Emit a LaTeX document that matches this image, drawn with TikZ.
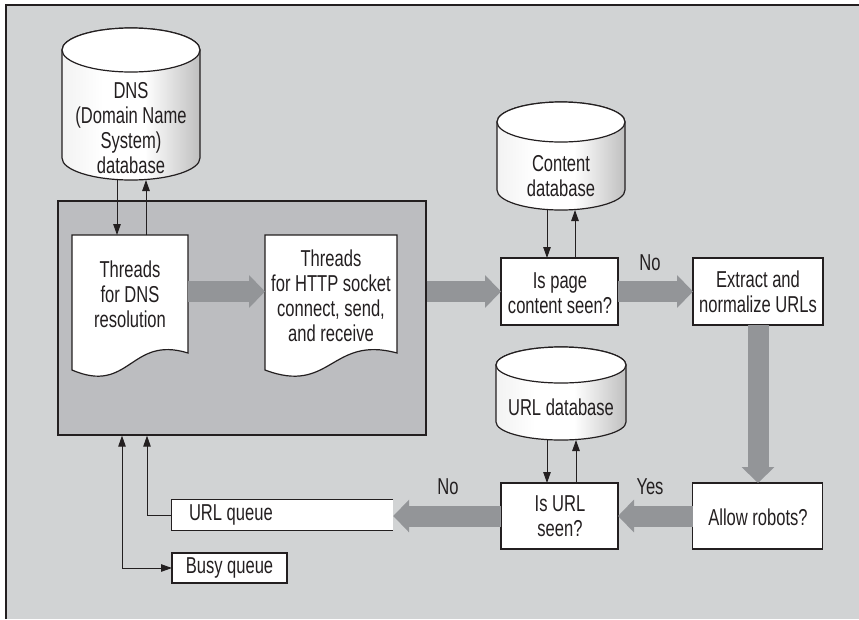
\documentclass[tikz,border=0pt]{standalone}
\usepackage{fontspec}
\setmainfont{Liberation Sans}[FakeStretch=0.72]
\usetikzlibrary{arrows.meta,calc}
\definecolor{framegray}{HTML}{D1D3D4}
\definecolor{innergray}{HTML}{BCBDC0}
\definecolor{arrowgray}{HTML}{939598}
\definecolor{ink}{HTML}{231F20}
\pgfdeclarehorizontalshading{cylshade}{100bp}{color(0bp)=(black!5); color(25bp)=(black!5); color(40bp)=(white); color(55bp)=(white); color(75bp)=(black!25); color(100bp)=(black!25)}
\tikzset{
  txt/.style={font=\fontsize{23}{25}\selectfont, align=center, inner sep=0pt, text=ink},
  anchorbox/.style={inner sep=0pt, outer sep=0pt},
  procbox/.style={draw=ink, line width=1.3pt, fill=white, inner sep=0pt, outer sep=0pt},
  bigarrow/.style={draw=arrowgray, line width=21pt, -{Triangle[width=32pt,length=16pt]}},
  thin/.style={draw=ink, line width=1pt, -{Triangle[length=11pt,width=7.5pt]}},
  thinboth/.style={draw=ink, line width=1pt, {Triangle[length=11pt,width=7.5pt]}-{Triangle[length=11pt,width=7.5pt]}},
  cylbody/.style={draw=ink, line width=1.2pt, shading=cylshade},
  cyltop/.style={draw=ink, line width=1.2pt, fill=white},
  docshape/.style={draw=ink, line width=1.2pt, fill=white}
}
\begin{document}
\begin{tikzpicture}[x=1pt, y=1pt]
\useasboundingbox (0,0) rectangle (859,-619);
% outer frame
\fill[framegray] (6,-5) rectangle (859,-619);
\draw[ink, line width=1.5pt] (6,-619) -- (6,-5) -- (859,-5);

% cylinders
% DNS: cx 131, rx 69, yt 50, yb 158, ry 22
\path[cylbody] (62,-50) -- (62,-158) arc[start angle=180, end angle=360, x radius=69, y radius=22] -- (200,-50) arc[start angle=0, end angle=180, x radius=69, y radius=22] -- cycle;
\path[cyltop] (131,-50) ellipse [x radius=69, y radius=22];
\node[anchorbox, minimum width=138pt, minimum height=152pt] (dnsdb) at (131,-104) {};
\node[txt] (dnstext) at (131,-128) {DNS\\(Domain Name\\System)\\database};

% Content: cx 561, rx 64, yt 122, yb 190, ry 20
\path[cylbody] (497,-122) -- (497,-190) arc[start angle=180, end angle=360, x radius=64, y radius=20] -- (625,-122) arc[start angle=0, end angle=180, x radius=64, y radius=20] -- cycle;
\path[cyltop] (561,-122) ellipse [x radius=64, y radius=20];
\node[anchorbox, minimum width=128pt, minimum height=108pt] (contentdb) at (561,-156) {};
\node[txt] (contenttext) at (561,-176) {Content\\database};

% URL: cx 561, rx 65, yt 365, yb 422, ry 18
\path[cylbody] (496,-365) -- (496,-422) arc[start angle=180, end angle=360, x radius=65, y radius=18] -- (626,-365) arc[start angle=0, end angle=180, x radius=65, y radius=18] -- cycle;
\path[cyltop] (561,-365) ellipse [x radius=65, y radius=18];
\node[anchorbox, minimum width=130pt, minimum height=93pt] (urldb) at (561,-393.5) {};
\node[txt] (urldbtext) at (561,-407) {URL database};

% inner thread box
\node[draw=ink, line width=1.3pt, fill=innergray, inner sep=0pt, minimum width=368pt, minimum height=234pt] (threadbox) at (242,-318) {};

% documents
\path[docshape] (72,-235) -- (188,-235) -- (188,-353) .. controls (130,-335) and (130,-395) .. (72,-370) -- cycle;
\node[anchorbox, minimum width=116pt, minimum height=135pt, anchor=north west] (doc1) at (72,-235) {};
\node[txt] (doc1text) at (130,-294) {Threads\\for DNS\\resolution};

\path[docshape] (265,-235) -- (397,-235) -- (397,-353) .. controls (331,-335) and (331,-395) .. (265,-370) -- cycle;
\node[anchorbox, minimum width=132pt, minimum height=135pt, anchor=north west] (doc2) at (265,-235) {};
\node[txt] (doc2text) at (331,-296) {Threads\\for HTTP socket\\connect, send,\\and receive};

% process boxes
\node[procbox, minimum width=117pt, minimum height=67pt] (ispage) at (559.5,-291.5) {};
\node[txt] (ispagetext) at (560,-293) {Is page\\content seen?};
\node[procbox, minimum width=130pt, minimum height=67pt] (extract) at (758,-291.5) {};
\node[txt] (extracttext) at (758,-292) {Extract and\\normalize URLs};
\node[procbox, minimum width=130pt, minimum height=66pt] (allow) at (757.5,-516) {};
\node[txt] (allowtext) at (758,-517) {Allow robots?};
\node[procbox, minimum width=117pt, minimum height=66pt] (isurl) at (559.5,-516) {};
\node[txt] (isurltext) at (560,-516.5) {Is URL\\seen?};

% queues
\node[fill=white, inner sep=0pt, minimum width=221pt, minimum height=30pt] (urlq) at (282.5,-515) {};
\draw[ink, line width=1.3pt] (urlq.north east) -- (urlq.north west) -- (urlq.south west) -- (urlq.south east);
\node[txt, anchor=west] (urlqtext) at ([xshift=17pt]urlq.west) {URL queue};
\node[procbox, minimum width=115pt, minimum height=30pt] (busyq) at (229.5,-568) {};
\node[txt] (busyqtext) at (busyq.center) {Busy queue};

% big arrows
\draw[bigarrow] (doc1.east |- ispage.west) -- (doc2.west |- ispage.west);
\draw[bigarrow] (threadbox.east |- ispage.west) -- (ispage.west);
\draw[bigarrow] (ispage.east) -- (extract.west);
\draw[bigarrow] (extract.south) -- (extract.south |- allow.north);
\draw[bigarrow] (allow.west) -- (isurl.east);
\draw[bigarrow] (isurl.west) -- (isurl.west -| urlq.east);

% labels
\node[txt] (no1) at (650,-263) {No};
\node[txt] (yes1) at (650,-487) {Yes};
\node[txt] (no2) at (448,-487) {No};

% thin connectors
\draw[thin] ([xshift=-14pt]dnsdb.south) -- ([xshift=-14pt]dnsdb.south |- doc1.north);
\draw[thin] ([xshift=15pt]dnsdb.south |- doc1.north) -- ([xshift=15pt]dnsdb.south);
\draw[thin] ([xshift=-14pt]contentdb.south) -- ([xshift=-14pt]contentdb.south |- ispage.north);
\draw[thin] ([xshift=14pt]contentdb.south |- ispage.north) -- ([xshift=14pt]contentdb.south);
\draw[thin] ([xshift=-14pt]urldb.south) -- ([xshift=-14pt]urldb.south |- isurl.north);
\draw[thin] ([xshift=15pt]urldb.south |- isurl.north) -- ([xshift=15pt]urldb.south);
\draw[thin] (urlq.west) -| ([xshift=-95pt]threadbox.south);
\draw[thinboth] ([xshift=-120pt]threadbox.south) |- (busyq.west);
\end{tikzpicture}
\end{document}
